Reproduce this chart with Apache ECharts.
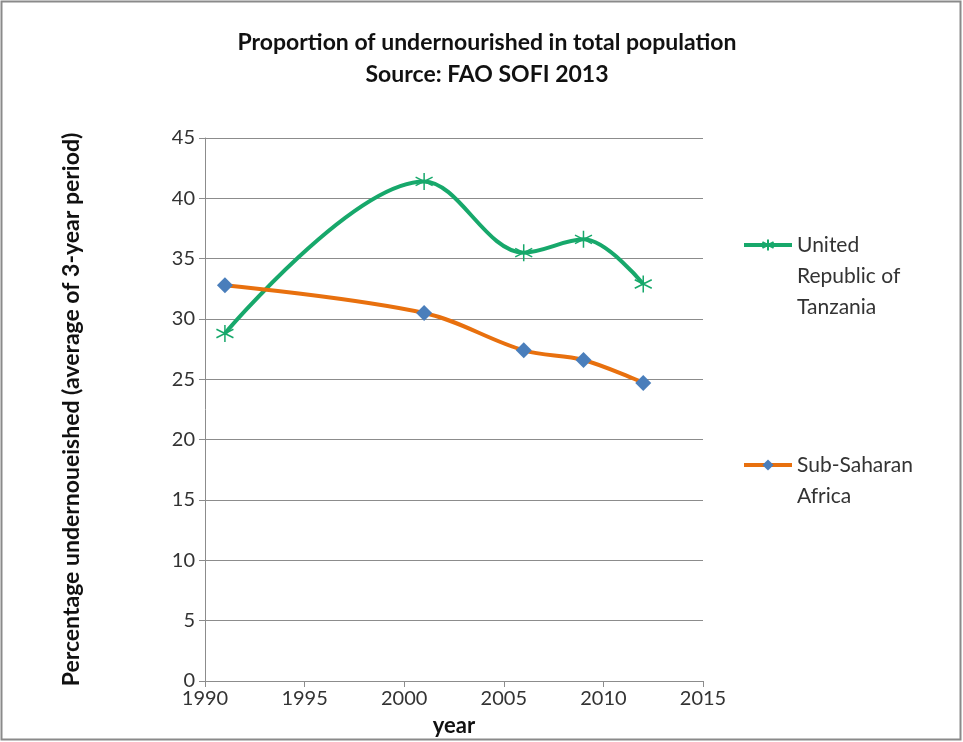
<!DOCTYPE html>
<html><head><meta charset="utf-8">
<script src="https://cdn.jsdelivr.net/npm/echarts@6/dist/echarts.min.js"></script>
<style>html,body{margin:0;padding:0;background:#fff}#c{width:963px;height:742px}</style>
</head><body><div id="c"></div>
<script>
const titleLines = ['Proportion of undernourished in total population', 'Source: FAO SOFI 2013'];
const years = [1991, 2001, 2006, 2009, 2012];
const tanzania = [28.8, 41.4, 35.5, 36.6, 32.9];
const ssa = [32.8, 30.5, 27.4, 26.6, 24.7];
const seriesNames = ['United Republic of Tanzania', 'Sub-Saharan Africa'];
const legendLines = [['United', 'Republic of', 'Tanzania'], ['Sub-Saharan', 'Africa']];
const xName = 'year';
const yName = 'Percentage undernoueished (average of 3-year period)';

const FONT = 'Lato, "Open Sans", sans-serif';
const green = '#17a86b', orange = '#e8700e', blue = '#4a7ebb';
const asterisk = 'path://M0,-10L0,10M-8.7,-5L8.7,5M-8.7,5L8.7,-5';

// prepend blank lines so the first text line sits level with the legend icon
const legendText = lines => new Array(lines.length - 1).fill('').concat(lines).join('\n');
const LH = 31;
const legendStyle = {fontFamily: FONT, fontSize: 21, color: '#333', lineHeight: LH};

const chart = echarts.init(document.getElementById('c'));
chart.setOption({
  animation: false,
  backgroundColor: '#fff',
  graphic: [{type: 'rect', shape: {x: 1.5, y: 1.5, width: 959, height: 738}, style: {fill: 'none', stroke: '#8a8a8a', lineWidth: 2}}],
  title: {
    text: titleLines.join('\n'), left: 482, top: 22, textAlign: 'center',
    textStyle: {fontFamily: FONT, fontSize: 23, fontWeight: 'bold', color: '#111', lineHeight: 32}
  },
  grid: {left: 205, right: 260, top: 138, bottom: 60},
  legend: [
    {data: [seriesNames[0]], orient: 'vertical', left: 742, top: 245 - (legendLines[0].length * 2 - 1) * LH / 2,
     itemWidth: 48, itemHeight: 14, padding: 0, lineStyle: {width: 4},
     formatter: () => legendText(legendLines[0]), textStyle: legendStyle},
    {data: [seriesNames[1]], orient: 'vertical', left: 742, top: 465 - (legendLines[1].length * 2 - 1) * LH / 2,
     itemWidth: 48, itemHeight: 14, padding: 0, lineStyle: {width: 4},
     formatter: () => legendText(legendLines[1]), textStyle: legendStyle}
  ],
  xAxis: {
    type: 'value', min: 1990, max: 2015, interval: 5,
    name: xName, nameLocation: 'middle', nameGap: 34,
    nameTextStyle: {fontFamily: FONT, fontSize: 22, fontWeight: 'bold', color: '#111'},
    axisLine: {lineStyle: {color: '#8c8c8c'}},
    axisTick: {show: true, length: 6, lineStyle: {color: '#8c8c8c'}},
    axisLabel: {fontFamily: FONT, fontSize: 20, color: '#333', margin: 8, formatter: v => String(v)},
    splitLine: {show: false}
  },
  yAxis: {
    type: 'value', min: 0, max: 45, interval: 5,
    name: yName, nameLocation: 'middle', nameGap: 122, nameRotate: 90,
    nameTextStyle: {fontFamily: FONT, fontSize: 23, fontWeight: 'bold', color: '#111'},
    axisLine: {show: true, lineStyle: {color: '#8c8c8c'}},
    axisTick: {show: true, length: 6, lineStyle: {color: '#8c8c8c'}},
    axisLabel: {fontFamily: FONT, fontSize: 20, color: '#333', margin: 10},
    splitLine: {lineStyle: {color: '#8c8c8c', width: 1}}
  },
  series: [
    {name: seriesNames[0], type: 'line', smooth: 0.35,
     data: years.map((y, i) => [y, tanzania[i]]),
     symbol: asterisk, symbolSize: 17,
     itemStyle: {color: green, borderColor: green, borderWidth: 1.5},
     lineStyle: {color: green, width: 4}},
    {name: seriesNames[1], type: 'line', smooth: 0.35,
     data: years.map((y, i) => [y, ssa[i]]),
     symbol: 'diamond', symbolSize: 16,
     itemStyle: {color: blue},
     lineStyle: {color: orange, width: 4}}
  ]
});
</script></body></html>
